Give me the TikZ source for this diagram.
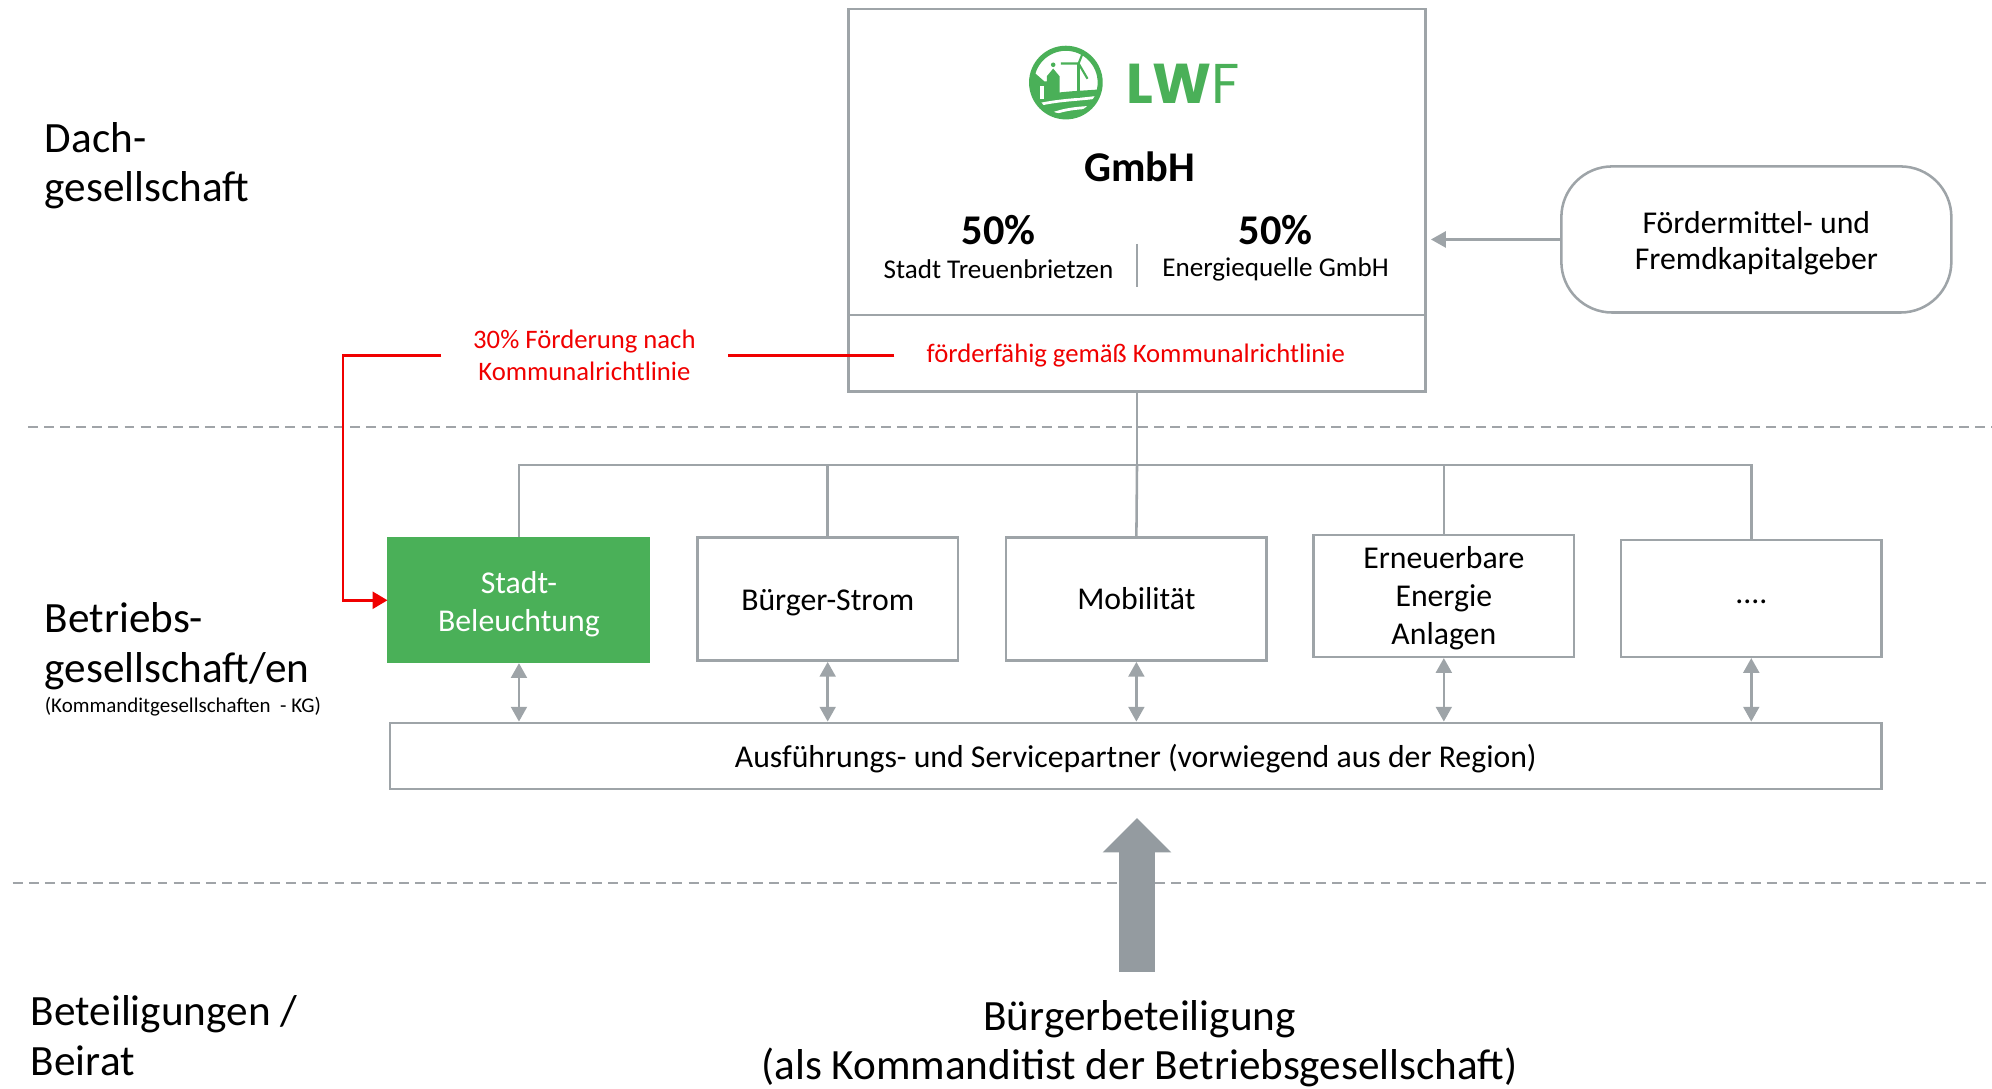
\documentclass[tikz,border=0pt]{standalone}
\usepackage{fontspec}
\setmainfont{Carlito}
\newfontfamily\logofont{Poppins}
\usetikzlibrary{arrows.meta}
\definecolor{lwfgreen}{RGB}{74,176,88}
\definecolor{linegray}{RGB}{158,164,168}
\definecolor{dashgray}{RGB}{160,164,168}
\definecolor{arrowgray}{RGB}{148,155,160}
\definecolor{fred}{RGB}{240,0,0}
\newcommand\pxu{0.6pt}
\newcommand\fs[2]{\fontsize{#1}{#2}\selectfont}
\newcommand\dnshift[2]{\raisebox{-#1}[\height][\depth]{#2}}
\begin{document}
\begin{tikzpicture}[x=0.6pt,y=-0.6pt,
  box/.style={draw=linegray, line width=1.2pt, fill=white, inner sep=0pt, align=center, font=\fs{15}{18}},
  conn/.style={draw=linegray, line width=1.2pt},
  dbl/.style={conn, {Triangle[length=7pt,width=7.5pt]}-{Triangle[length=7pt,width=7.5pt]}},
  garrow/.style={conn, -{Triangle[length=7pt,width=7.5pt]}},
  redline/.style={draw=fred, line width=1.2pt},
  sep/.style={draw=dashgray, line width=0.9pt, dash pattern=on 4.7pt off 2.9pt},
  sectionlabel/.style={anchor=west, inner sep=0pt, align=left, font=\fs{20.4}{23.4}},
  redtext/.style={text=fred, font=\fs{12.6}{15}, align=center}
]
\useasboundingbox (0,0) rectangle (1568,857);

% separators
\draw[sep] (22,336) -- (1568,336);
\draw[sep] (10,695) -- (1568,695);

% section labels
\node[sectionlabel] (lab1) at (35,130.5) {Dach-\\gesellschaft};
\node[sectionlabel] (lab2) at (35,508.5) {Betriebs-\\gesellschaft/en};
\node[sectionlabel, font=\fs{9.9}{11}] (lab2b) at (35,556) {(Kommanditgesellschaften\ \ - KG)};
\node[sectionlabel] (lab3) at (24,815) {Beteiligungen /\\Beirat};

% top box
\node[box, minimum width=454*\pxu, minimum height=301*\pxu] (top) at (895,157.5) {};
\draw[conn] (top.west |- 0,248) -- (top.east |- 0,248);
\draw[conn] (895,192) -- (895,226);

% logo
\begin{scope}[shift={(839,65)}]
  \begin{scope}
    \clip (0,0) circle (27);
    \fill[lwfgreen] (-30,13) .. controls (-8,6) and (12,7) .. (30,5) -- (30,30) -- (-30,30) -- cycle;
    \draw[white, line width=1.3pt] (-28,19) .. controls (-6,13) and (10,14) .. (28,11);
    \draw[white, line width=1.3pt] (-16,27) .. controls (-2,20) and (12,20) .. (26,19);
  \end{scope}
  \draw[lwfgreen, line width=2.4pt] (0,0) circle (27);
  \fill[lwfgreen] (-25,-8) -- (-17,-1) -- (-15,-1) -- (-15,-5) -- (-10,-11) -- (-5,-5) -- (-5,13) -- (-25,13) -- cycle;
  \fill[white] (-20,3) rectangle (-17,13);
  \fill[lwfgreen] (-10,-14) circle (1.8);
  \draw[lwfgreen, line width=1.5pt] (10,-15) -- (10,12);
  \draw[lwfgreen, line width=1pt] (-4,-15) -- (10,-15) -- (14,-25);
  \draw[lwfgreen, line width=1pt] (10,-15) -- (17,-3);
\end{scope}
\node[anchor=west, inner sep=0pt, text=lwfgreen] (logo) at (886,66) {\logofont\fs{26.5}{26}\textbf{LW}F};

\node[font=\fs{20}{24}\bfseries] (gmbh) at (897,131) {GmbH};
\node[font=\fs{20}{24}\bfseries] (p1) at (786,181) {50\%};
\node[font=\fs{20}{24}\bfseries] (p2) at (1004,181) {50\%};
\node[font=\fs{12.8}{15}] (o1) at (786,212) {Stadt Treuenbrietzen};
\node[font=\fs{12.8}{15}] (o2) at (1004,212) {Energiequelle GmbH};
\node[redtext, inner xsep=15pt] (foerd) at (894,280) {förderfähig gemäß Kommunalrichtlinie};

% funding box
\node[box, rounded corners=24pt, minimum width=307*\pxu, minimum height=115*\pxu, font=\fs{15}{17.4}] (fund) at (1382.5,188.5) {\dnshift{1.8pt}{\parbox{120pt}{\centering Fördermittel- und\\Fremdkapitalgeber}}};
\draw[garrow, shorten >=2pt] (fund.west) -- (top.east |- fund.west);

% red label and connector
\node[redtext, minimum width=225*\pxu] (lbl) at (460,280) {30\% Förderung nach\\Kommunalrichtlinie};

% operating companies
\node[box, fill=lwfgreen, draw=lwfgreen, text=white, minimum width=205*\pxu, minimum height=97*\pxu] (green) at (408.5,472.5) {\dnshift{1.8pt}{\parbox{110pt}{\centering Stadt-\\Beleuchtung}}};
\node[box, minimum width=205*\pxu, minimum height=97*\pxu] (buerger) at (651.5,471.5) {\dnshift{1.8pt}{Bürger-Strom}};
\node[box, minimum width=205*\pxu, minimum height=97*\pxu] (mobil) at (894.5,471.5) {Mobilität};
\node[box, minimum width=205*\pxu, minimum height=96*\pxu] (ern) at (1136.5,469) {\dnshift{1.2pt}{\parbox{110pt}{\centering Erneuerbare\\Energie\\Anlagen}}};
\node[box, minimum width=205*\pxu, minimum height=92*\pxu] (dots) at (1378.5,471) {\dnshift{1.5pt}{....}};

\draw[redline] (foerd.west) -- (lbl.east);
\draw[redline, -{Triangle[length=7pt,width=8pt]}] (lbl.west) -- ++(-77,0) coordinate (rc) |- (green.west);

% tree
\coordinate (bus) at (895,366);
\draw[conn] (top.south) -- (bus);
\draw[conn] (bus) -| (green.north);
\draw[conn] (bus) -| (buerger.north);
\draw[conn] (bus) -- (mobil.north);
\draw[conn] (bus) -| (ern.north);
\draw[conn] (bus) -| (dots.north);

% service partners
\node[box, minimum width=1174*\pxu, minimum height=52*\pxu] (wide) at (894,595) {\dnshift{1.2pt}{Ausführungs- und Servicepartner (vorwiegend aus der Region)}};
\foreach \n in {green,buerger,mobil,ern,dots}
  \draw[dbl] (\n.south) -- (\n.south |- wide.north);

% citizen participation
\fill[arrowgray] (881,765) -- (881,671) -- (868,671) -- (895,644) -- (922,671) -- (909,671) -- (909,765) -- cycle;
\node[align=center, font=\fs{20.4}{23.4}] (buerg) at (897,821.5) {Bürgerbeteiligung\\(als Kommanditist der Betriebsgesellschaft)};
\end{tikzpicture}
\end{document}
